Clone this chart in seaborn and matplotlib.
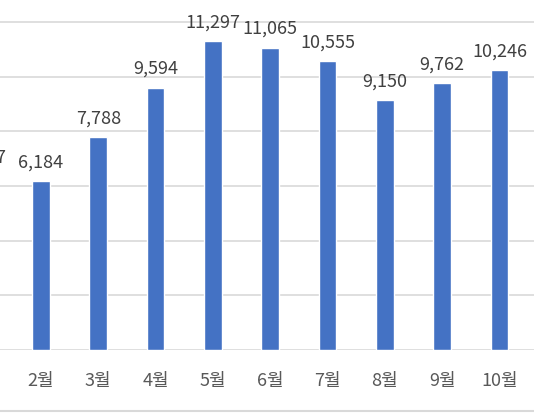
import numpy as np
import pandas as pd
import seaborn as sns
from matplotlib import pyplot as plt
from matplotlib.lines import Line2D

# Monthly values (1월 is mostly cropped off on the left in the reference)
months = ['1월', '2월', '3월', '4월', '5월', '6월', '7월', '8월', '9월', '10월']
values = [6337, 6184, 7788, 9594, 11297, 11065, 10555, 9150, 9762, 10246]
yticks = [0, 2000, 4000, 6000, 8000, 10000, 12000]

sns.set_style('white')
plt.rcParams['font.family'] = ['Noto Sans CJK KR', 'DejaVu Sans']

df = pd.DataFrame({'month': months, 'value': values})

fig = plt.figure(figsize=(5.34, 4.13), dpi=100)
ax = fig.add_axes([0, 63 / 413, 1, 350 / 413])

sns.barplot(data=df, x='month', y='value', color='#4472C4', saturation=1,
            width=0.31, ax=ax, zorder=3)

# Data labels above each bar (keep the cut-off 1월 label partly visible)
ax.bar_label(ax.containers[0], labels=[f'{v:,}' for v in values],
             padding=7, fontsize=13, color='#404040', annotation_clip=False)

ax.set_xlim(0.285, 9.604)
ax.set_ylim(0, 12805)
ax.set_yticks(yticks)
ax.yaxis.grid(True, color='#d9d9d9', linewidth=1.2, zorder=0)
ax.tick_params(axis='y', left=False, labelleft=False)
ax.tick_params(axis='x', length=0, pad=16, labelsize=13, labelcolor='#595959')
ax.set_xlabel('')
ax.set_ylabel('')
sns.despine(ax=ax, left=True, right=True, top=True, bottom=True)

# Chart area border at the bottom
fig.add_artist(Line2D([0, 1], [0.004, 0.004], transform=fig.transFigure,
                      color='#d9d9d9', linewidth=1.5))

fig.savefig('out.png', dpi=100)
